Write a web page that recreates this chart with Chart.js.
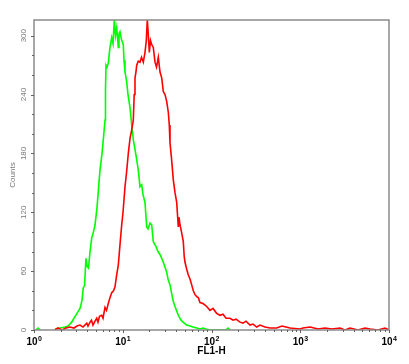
<!DOCTYPE html>
<html lang="en">
<head>
    <meta charset="UTF-8"/>
    <title>FL1-H histogram</title>
    <style>
        html, body {
            margin: 0;
            padding: 0;
            background: #fff;
            overflow: hidden;
        }

        #wrap {
            position: relative;
            width: 409px;
            height: 364px;
        }
    </style>
    <script src="https://cdn.jsdelivr.net/npm/chart.js@4/dist/chart.umd.min.js"></script>
</head>
<body>
<div id="wrap"><canvas id="hist"></canvas></div>

<script>
    // Control histogram (green)
    const greenFL = [1.05, 1.11, 1.18, 1.45, 1.72, 1.96, 2.24, 2.42, 2.66, 2.82, 3.05, 3.30,
        3.47, 3.59, 3.71, 3.85, 3.96, 4.11, 4.28, 4.47, 4.62, 4.87,
        5.13, 5.54, 5.84, 6.04, 6.31, 6.39, 6.48, 6.65, 6.87, 7.18,
        7.51, 7.77, 8.03, 8.28, 8.55, 8.91, 9.07, 9.31, 9.68, 10.14,
        10.33, 10.60, 11.08, 11.46, 12.07, 12.61, 13.15, 13.74, 14.29, 14.97,
        15.64, 16.35, 16.91, 17.81, 18.62, 19.26, 20.28, 21.20, 22.09, 23.70,
        24.96, 26.29, 28.41, 31.27, 32.35, 34.07, 35.43, 37.12, 38.79, 42.27,
        45.33, 47.75, 52.56, 57.24, 61.87, 68.10, 74.20, 80.21, 86.70, 96.18,
        109.5, 145.7, 153.5, 161.6];
    const greenCounts = [0, 2, 0, null, 1, 2, 3, 4, 8, 12, 17, 22,
        30, 43, 45, 73, 65, 63, 80, 94, 98, 107,
        125, 163, 180, 194, 214, 245, 270, 268, 272, 288,
        298, 292, 316, 300, 308, 288, 302, 304, 296, 291,
        275, 263, 253, 240, 227, 209, 194, 184, 175, 163,
        146, 148, 138, 130, 105, 103, 109, 107, 90, 85,
        80, 77, 70, 59, 52, 46, 38, 29, 24, 15,
        10, 8, 5, 4, 3, 2, 1, 2, 1, 0,
        0, 0, 2, 0];

    // Stained histogram (red)
    const redFL = [1.72, 1.86, 2.07, 2.29, 2.54, 2.82, 3.05, 3.30, 3.57, 3.93,
        4.06, 4.28, 4.44, 4.62, 4.87, 5.09, 5.26, 5.47, 5.79, 5.99,
        6.31, 6.56, 6.87, 7.18, 7.51, 7.87, 8.18, 8.50, 8.91, 9.31,
        9.73, 10.07, 10.60, 11.02, 11.55, 12.07, 12.61, 13.15, 13.46, 13.74,
        14.10, 14.36, 14.97, 15.64, 16.27, 17.04, 17.81, 18.42, 18.91, 19.41,
        19.92, 20.55, 21.20, 22.09, 23.09, 24.01, 25.16, 26.29, 27.48, 28.63,
        29.93, 31.27, 32.60, 33.45, 34.07, 35.43, 37.12, 38.79, 40.54, 42.27,
        43.04, 44.18, 45.92, 48.12, 49.26, 50.29, 52.56, 54.79, 57.24, 59.83,
        62.37, 65.18, 68.10, 71.00, 74.20, 80.21, 88.31, 96.18, 103.9, 114.4,
        124.7, 134.8, 145.7, 161.6, 174.7, 188.9, 209.5, 226.4, 244.8, 271.6,
        293.6, 323.1, 352.0, 400.6, 456.2, 542.9, 622.9, 766.6, 993.6, 1074,
        1288, 1585, 1901, 2279, 2805, 3193, 3636, 4475, 5365, 6108,
        7516, 9015, 10000];
    const redCounts = [0, 2, 0, 2, 3, 2, 4, 5, 3, 7,
        4, 8, 10, 5, 9, 12, 8, 14, 15, 12,
        23, 20, 27, 33, 38, 40, 44, 55, 66, 87,
        107, 120, 146, 160, 180, 195, 204, 214, 240, 257,
        263, 270, 274, 273, 278, 273, 283, 295, 316, 301,
        283, 295, 291, 288, 273, 268, 278, 263, 257, 243,
        240, 233, 222, 209, 191, 175, 153, 140, 130, 105,
        115, 107, 100, 90, 75, 69, 62, 56, 52, 46,
        40, 36, 34, 33, 28, 27, 24, 20, 22, 17,
        15, 16, 12, 12, 10, 11, 8, 7, 9, 5,
        6, 3, 5, 3, 2, 2, 4, 2, 1, 2,
        3, 1, 2, 1, 2, 0, 2, 0, 2, 1,
        0, 2, 0];

    // Axes
    const yTicks = [0, 60, 120, 180, 240, 300];
    const yMax = 316;
    const xDecades = [1, 10, 100, 1000, 10000];
    const xExponents = ['0', '1', '2', '3', '4'];
    const xTitle = 'FL1-H';
    const yTitle = 'Counts';

    function toPoints(xs, ys) {
        return xs.map((v, i) => ({x: v, y: ys[i]}));
    }

    // frame, ticks and labels drawn from the chart's own scales
    const axisDeco = {
        id: 'axisDeco',
        afterDraw(chart) {
            const {ctx, chartArea: a} = chart;
            const xs = chart.scales.x, ys = chart.scales.y;
            ctx.save();

            ctx.strokeStyle = '#8a8a8a';
            ctx.lineWidth = 1.5;
            ctx.strokeRect(a.left, a.top, a.right - a.left, a.bottom - a.top);

            ctx.strokeStyle = '#606060';
            ctx.lineWidth = 1;
            for (let v = 0; v <= 300; v += 20) {
                const py = Math.round(ys.getPixelForValue(v)) + 0.5;
                ctx.beginPath();
                ctx.moveTo(a.left - (v % 60 ? 2 : 3), py);
                ctx.lineTo(a.left, py);
                ctx.stroke();
            }

            xDecades.forEach((d, i) => {
                const px = Math.round(xs.getPixelForValue(d)) + 0.5;
                ctx.beginPath();
                ctx.moveTo(px, a.bottom);
                ctx.lineTo(px, a.bottom + 3);
                ctx.stroke();
                if (i < xDecades.length - 1) {
                    for (let k = 2; k <= 9; k++) {
                        const mx = Math.round(xs.getPixelForValue(k * d)) + 0.5;
                        ctx.beginPath();
                        ctx.moveTo(mx, a.bottom);
                        ctx.lineTo(mx, a.bottom + 2);
                        ctx.stroke();
                    }
                }
            });

            // y tick labels, rotated
            ctx.fillStyle = '#7a7a7a';
            ctx.font = '8px "Liberation Sans", Arial, sans-serif';
            ctx.textAlign = 'center';
            ctx.textBaseline = 'middle';
            yTicks.forEach(v => {
                ctx.save();
                ctx.translate(a.left - 10, ys.getPixelForValue(v));
                ctx.rotate(-Math.PI / 2);
                ctx.fillText(String(v), 0, 0);
                ctx.restore();
            });
            ctx.save();
            ctx.translate(a.left - 21, (a.top + a.bottom) / 2);
            ctx.rotate(-Math.PI / 2);
            ctx.fillText(yTitle, 0, 0);
            ctx.restore();

            // x tick labels: 10 with superscript exponent
            ctx.fillStyle = '#000';
            ctx.textAlign = 'left';
            ctx.textBaseline = 'alphabetic';
            const baseFont = 'bold 10px "Liberation Sans", Arial, sans-serif';
            const supFont = 'bold 7px "Liberation Sans", Arial, sans-serif';
            xDecades.forEach((d, i) => {
                const px = xs.getPixelForValue(d);
                ctx.font = baseFont;
                const w1 = ctx.measureText('10').width;
                ctx.font = supFont;
                const w2 = ctx.measureText(xExponents[i]).width;
                const x0 = px - (w1 + w2) / 2;
                ctx.font = baseFont;
                ctx.fillText('10', x0, a.bottom + 15);
                ctx.font = supFont;
                ctx.fillText(xExponents[i], x0 + w1 + 0.5, a.bottom + 10.5);
            });

            ctx.font = 'bold 10px "Liberation Sans", Arial, sans-serif';
            ctx.textAlign = 'center';
            ctx.fillText(xTitle, xs.getPixelForValue(100), a.bottom + 23.5);

            ctx.restore();
        }
    };

    const ctx = document.getElementById('hist').getContext('2d');
    new Chart(ctx, {
        type: 'line',
        data: {
            datasets: [{
                label: 'Control',
                data: toPoints(greenFL, greenCounts),
                borderColor: '#00ff00',
                borderWidth: 1.6,
                pointRadius: 0,
                tension: 0,
                order: 2
            }, {
                label: 'Stained',
                data: toPoints(redFL, redCounts),
                borderColor: '#ff0000',
                borderWidth: 1.6,
                pointRadius: 0,
                tension: 0,
                order: 1
            }]
        },
        options: {
            animation: false,
            responsive: true,
            maintainAspectRatio: false,
            layout: {padding: {top: 20, right: 20, left: 0, bottom: 0}},
            plugins: {
                legend: {display: false},
                tooltip: {enabled: false}
            },
            scales: {
                x: {
                    type: 'logarithmic',
                    min: 1,
                    max: 10000,
                    ticks: {display: false},
                    grid: {display: false},
                    border: {display: false},
                    afterFit(s) {
                        s.height = 34;
                    }
                },
                y: {
                    min: 0,
                    max: yMax,
                    ticks: {display: false},
                    grid: {display: false},
                    border: {display: false},
                    afterFit(s) {
                        s.width = 34;
                    }
                }
            }
        },
        plugins: [axisDeco]
    });
</script>
</body>
</html>
